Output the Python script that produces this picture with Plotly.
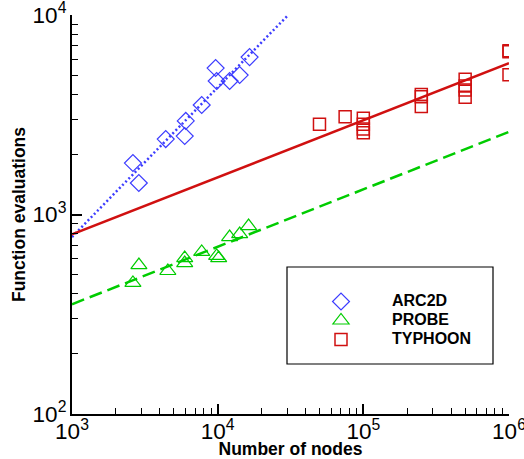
import plotly.graph_objects as go

# ---- data ----
arc2d_nodes = [2620, 2875, 4400, 5940, 6040, 7770, 9680, 9840, 12080, 14150, 16560]
arc2d_evals = [1811, 1439, 2388, 2473, 2945, 3540, 5420, 4670, 4670, 5000, 6150]

probe_nodes = [2620, 2880, 4550, 5940, 5940, 7770, 9840, 10160, 12080, 14160, 16300]
probe_evals = [454, 558, 521, 605, 571, 649, 620, 605, 771, 798, 875]

typhoon_nodes = [50000, 75000, 100000, 100000, 100000, 100000,
                 250000, 250000, 250000, 500000, 500000, 500000, 500000,
                 1000000, 1000000, 1000000]
typhoon_evals = [2832, 3090, 3035, 2832, 2683, 2566,
                 3990, 3890, 3480, 4765, 4405, 4208, 3865,
                 6620, 6550, 5020]

arc2d_fit_x = [1000, 30000]
arc2d_fit_y = [771, 9880]
probe_fit_x = [1000, 1000000]
probe_fit_y = [355, 2594]
typhoon_fit_x = [1000, 1000000]
typhoon_fit_y = [795, 5730]

series_names = ["ARC2D", "PROBE", "TYPHOON"]

BLUE = "#3c3cff"
GREEN = "#00cc00"
RED = "#d01010"
FONT = "Liberation Sans, Arial, Helvetica"

fig = go.Figure()

# fit lines
fig.add_trace(go.Scatter(x=arc2d_fit_x, y=arc2d_fit_y, mode="lines",
                         line=dict(color=BLUE, width=2.5, dash="2px,2.5px"),
                         showlegend=False, hoverinfo="skip"))
fig.add_trace(go.Scatter(x=typhoon_fit_x, y=typhoon_fit_y, mode="lines",
                         line=dict(color=RED, width=2.5),
                         showlegend=False, hoverinfo="skip"))
fig.add_trace(go.Scatter(x=probe_fit_x, y=probe_fit_y, mode="lines",
                         line=dict(color=GREEN, width=2.5, dash="13px,6px"),
                         showlegend=False, hoverinfo="skip"))

def legend_label(name):
    return '<span style="font-size:16px"><b>' + name + '</b></span>'

# data markers
fig.add_trace(go.Scatter(x=arc2d_nodes, y=arc2d_evals, mode="markers",
                         name=legend_label(series_names[0]),
                         marker=dict(symbol="diamond-open", size=13, color=BLUE,
                                     line=dict(width=1.2, color=BLUE))))
fig.add_trace(go.Scatter(x=probe_nodes, y=probe_evals, mode="markers",
                         name=legend_label(series_names[1]),
                         marker=dict(symbol="triangle-up-open", size=14, color=GREEN,
                                     line=dict(width=1.2, color=GREEN))))
fig.add_trace(go.Scatter(x=typhoon_nodes, y=typhoon_evals, mode="markers",
                         name=legend_label(series_names[2]),
                         marker=dict(symbol="square-open", size=12, color=RED,
                                     line=dict(width=1.5, color=RED))))

axis_common = dict(
    type="log", dtick=1, exponentformat="power", showexponent="all",
    ticks="inside", ticklen=10, tickwidth=1.5, tickcolor="black",
    showline=True, linewidth=2, linecolor="black", mirror=False,
    showgrid=False, zeroline=False, automargin=False,
    ticklabeloverflow="allow",
    tickfont=dict(family=FONT, size=18, color="black"),
    minor=dict(ticks="inside", ticklen=6, tickwidth=1, tickcolor="black",
               dtick="D1", showgrid=False),
)

fig.update_layout(
    width=524, height=459,
    margin=dict(l=72, r=15, t=15, b=45),
    paper_bgcolor="white", plot_bgcolor="white",
    xaxis=dict(range=[3, 6], ticklabelstandoff=-3,
               title=dict(text="<b>Number of nodes</b>", standoff=4,
                          font=dict(family=FONT, size=17.5, color="black")),
               **axis_common),
    yaxis=dict(range=[2, 4],
               title=dict(text="<b>Function evaluations</b>", standoff=2,
                          font=dict(family=FONT, size=17.5, color="black")),
               **axis_common),
    legend=dict(x=(290 - 72) / 437, y=(414 - 287) / 399, xanchor="left", yanchor="top",
                bgcolor="rgba(0,0,0,0)", borderwidth=0, itemwidth=92,
                font=dict(family=FONT, size=12.2, color="black"),
                tracegroupgap=0),
    shapes=[dict(type="rect", xref="paper", yref="paper",
                 x0=(287 - 72) / 437, x1=(493 - 72) / 437,
                 y0=(414 - 364) / 399, y1=(414 - 267) / 399,
                 line=dict(color="black", width=1.2), fillcolor="rgba(0,0,0,0)")],
)

fig.write_html("out.html", config={"displayModeBar": False},
               post_script="document.body.style.margin='0px';document.body.style.overflow='hidden';")
